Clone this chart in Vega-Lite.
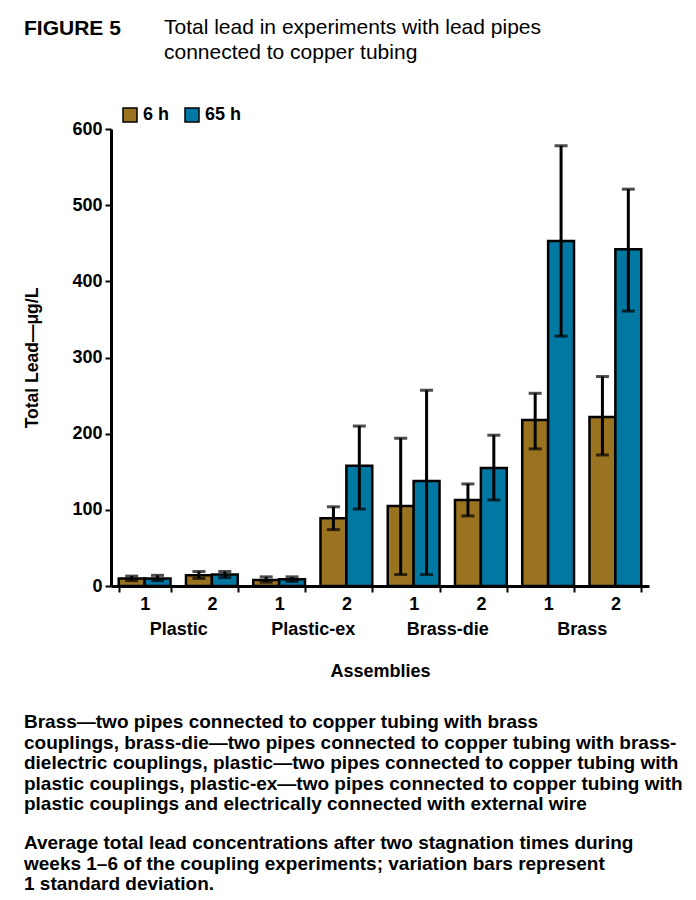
{
  "$schema": "https://vega.github.io/schema/vega-lite/v6.json",
  "padding": {"left": 23, "top": 17, "right": 6, "bottom": 6},
  "background": "white",
  "config": {
    "font": "Liberation Sans",
    "view": {"stroke": null},
    "concat": {"spacing": 0},
    "axis": {"grid": false, "labelColor": "black", "titleColor": "black", "domainColor": "black", "tickColor": "black", "labelFont": "Liberation Sans", "titleFont": "Liberation Sans"},
    "legend": {"symbolStrokeColor": "black", "symbolStrokeWidth": 1.5}
  },
  "title": {
    "text": [
      "Brass—two pipes connected to copper tubing with brass",
      "couplings, brass-die—two pipes connected to copper tubing with brass-",
      "dielectric couplings, plastic—two pipes connected to copper tubing with",
      "plastic couplings, plastic-ex—two pipes connected to copper tubing with",
      "plastic couplings and electrically connected with external wire"
    ],
    "subtitle": [
      "Average total lead concentrations after two stagnation times during",
      "weeks 1–6 of the coupling experiments; variation bars represent",
      "1 standard deviation."
    ],
    "orient": "bottom",
    "anchor": "start",
    "frame": "bounds",
    "offset": 33,
    "font": "Liberation Sans",
    "fontSize": 19,
    "fontWeight": "bold",
    "color": "black",
    "lineHeight": 20.5,
    "subtitleFont": "Liberation Sans",
    "subtitleFontSize": 19,
    "subtitleFontWeight": "bold",
    "subtitleColor": "black",
    "subtitleLineHeight": 20.5,
    "subtitlePadding": 20
  },
  "vconcat": [
    {
      "title": {
        "text": "FIGURE 5",
        "anchor": "start",
        "frame": "bounds",
        "font": "Liberation Sans",
        "fontSize": 21,
        "fontWeight": "bold",
        "color": "black",
        "offset": 0,
        "dy": 22
      },
      "vconcat": [
        {
          "title": {
            "text": ["Total lead in experiments with lead pipes", "connected to copper tubing"],
            "anchor": "start",
            "frame": "bounds",
            "font": "Liberation Sans",
            "fontSize": 21,
            "fontWeight": "normal",
            "color": "black",
            "lineHeight": 25,
            "dx": 140,
            "dy": -45,
            "offset": 12
          },
          "width": 538,
          "height": 457,
          "data": {
            "values": [
              {"key": "Plastic 1", "group": "Plastic", "time": "6 h", "mean": 10, "lo": 7, "hi": 13},
              {"key": "Plastic 1", "group": "Plastic", "time": "65 h", "mean": 10, "lo": 7, "hi": 14},
              {"key": "Plastic 2", "group": "Plastic", "time": "6 h", "mean": 14, "lo": 10, "hi": 19},
              {"key": "Plastic 2", "group": "Plastic", "time": "65 h", "mean": 15, "lo": 11, "hi": 19},
              {"key": "Plastic-ex 1", "group": "Plastic-ex", "time": "6 h", "mean": 8, "lo": 5, "hi": 12},
              {"key": "Plastic-ex 1", "group": "Plastic-ex", "time": "65 h", "mean": 9, "lo": 6, "hi": 12},
              {"key": "Plastic-ex 2", "group": "Plastic-ex", "time": "6 h", "mean": 89, "lo": 74, "hi": 104},
              {"key": "Plastic-ex 2", "group": "Plastic-ex", "time": "65 h", "mean": 158, "lo": 101, "hi": 210},
              {"key": "Brass-die 1", "group": "Brass-die", "time": "6 h", "mean": 105, "lo": 15, "hi": 194},
              {"key": "Brass-die 1", "group": "Brass-die", "time": "65 h", "mean": 138, "lo": 15, "hi": 257},
              {"key": "Brass-die 2", "group": "Brass-die", "time": "6 h", "mean": 113, "lo": 92, "hi": 134},
              {"key": "Brass-die 2", "group": "Brass-die", "time": "65 h", "mean": 155, "lo": 113, "hi": 198},
              {"key": "Brass 1", "group": "Brass", "time": "6 h", "mean": 218, "lo": 180, "hi": 253},
              {"key": "Brass 1", "group": "Brass", "time": "65 h", "mean": 453, "lo": 328, "hi": 578},
              {"key": "Brass 2", "group": "Brass", "time": "6 h", "mean": 222, "lo": 172, "hi": 275},
              {"key": "Brass 2", "group": "Brass", "time": "65 h", "mean": 442, "lo": 361, "hi": 521}
            ]
          },
          "layer": [
            {
              "encoding": {
                "x": {
                  "field": "key",
                  "type": "nominal",
                  "sort": ["Plastic 1", "Plastic 2", "Plastic-ex 1", "Plastic-ex 2", "Brass-die 1", "Brass-die 2", "Brass 1", "Brass 2"],
                  "scale": {"paddingInner": 0.23, "paddingOuter": 0.115},
                  "axis": {
                    "orient": "bottom",
                    "title": null,
                    "labelAngle": 0,
                    "labelExpr": "split(datum.label, ' ')[1]",
                    "labelFontSize": 18,
                    "labelFontWeight": "bold",
                    "labelPadding": 3,
                    "tickBand": "extent",
                    "tickSize": 6,
                    "tickWidth": 2,
                    "domainWidth": 3
                  }
                },
                "xOffset": {"field": "time", "type": "nominal", "sort": ["6 h", "65 h"], "scale": {"paddingInner": 0, "paddingOuter": 0}}
              },
              "layer": [
                {
                  "mark": {"type": "bar", "stroke": "black", "strokeWidth": 2.5},
                  "encoding": {
                    "y": {
                      "field": "mean",
                      "type": "quantitative",
                      "title": "Total Lead—μg/L",
                      "scale": {"domain": [0, 600], "nice": false},
                      "axis": {
                        "values": [0, 100, 200, 300, 400, 500, 600],
                        "labelFontSize": 18,
                        "labelFontWeight": "bold",
                        "labelPadding": 3,
                        "tickSize": 6,
                        "tickWidth": 2,
                        "domainWidth": 3,
                        "titleFontSize": 17.5,
                        "titleFontWeight": "bold",
                        "titlePadding": 30
                      }
                    },
                    "fill": {
                      "field": "time",
                      "type": "nominal",
                      "scale": {"domain": ["6 h", "65 h"], "range": ["#9A7320", "#0078A2"]},
                      "legend": {
                        "title": null,
                        "orient": "none",
                        "legendX": 10,
                        "legendY": -23,
                        "direction": "horizontal",
                        "symbolType": "square",
                        "symbolSize": 196,
                        "labelFontSize": 18,
                        "labelFontWeight": "bold",
                        "labelColor": "black",
                        "labelOffset": 4,
                        "columnPadding": 12
                      }
                    }
                  }
                },
                {
                  "mark": {"type": "rule", "color": "black", "strokeWidth": 3},
                  "encoding": {
                    "y": {"field": "lo", "type": "quantitative", "title": "Total Lead—μg/L"},
                    "y2": {"field": "hi"}
                  }
                },
                {
                  "mark": {"type": "tick", "color": "black", "thickness": 3, "size": 13, "orient": "horizontal"},
                  "encoding": {
                    "y": {"field": "lo", "type": "quantitative", "title": "Total Lead—μg/L"}
                  }
                },
                {
                  "mark": {"type": "tick", "color": "black", "thickness": 3, "size": 13, "orient": "horizontal"},
                  "encoding": {
                    "y": {"field": "hi", "type": "quantitative", "title": "Total Lead—μg/L"}
                  }
                }
              ]
            },
            {
              "mark": {"type": "point", "opacity": 0},
              "encoding": {
                "x": {
                  "field": "group",
                  "type": "nominal",
                  "sort": ["Plastic", "Plastic-ex", "Brass-die", "Brass"],
                  "scale": {"type": "point", "padding": 0.5},
                  "axis": {
                    "orient": "bottom",
                    "title": "Assemblies",
                    "labelAngle": 0,
                    "labelFontSize": 18,
                    "labelFontWeight": "bold",
                    "labelPadding": 34,
                    "ticks": false,
                    "domain": false,
                    "titleFontSize": 18,
                    "titleFontWeight": "bold",
                    "titlePadding": 24
                  }
                },
                "y": {"field": "mean", "type": "quantitative", "title": "Total Lead—μg/L"}
              }
            }
          ],
          "resolve": {"scale": {"x": "independent"}, "axis": {"x": "independent"}}
        }
      ]
    }
  ]
}
